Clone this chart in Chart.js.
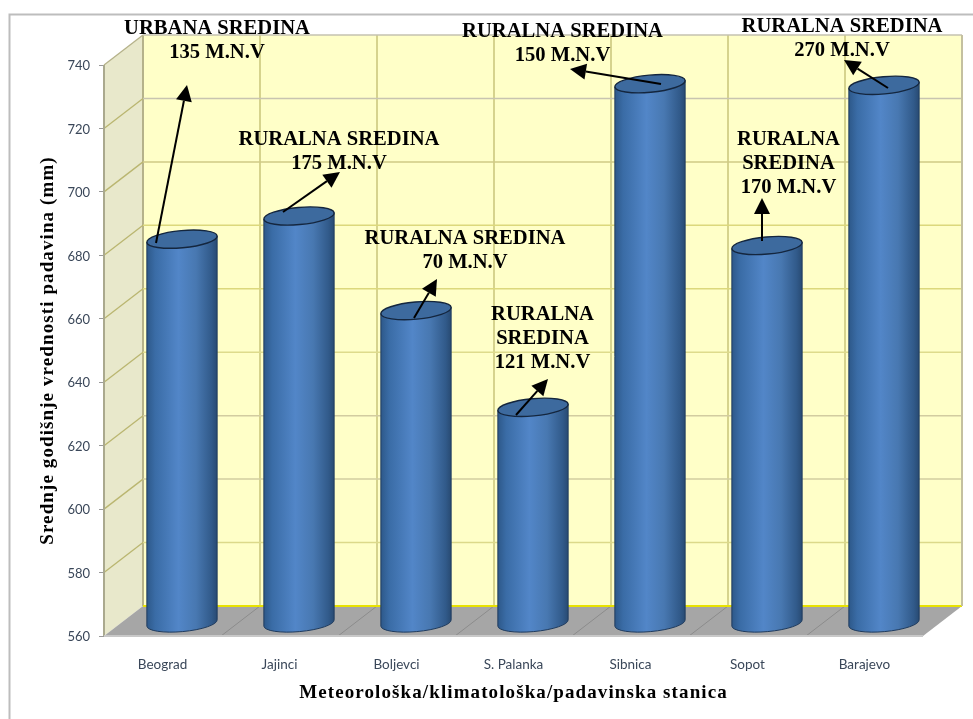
<!DOCTYPE html>
<html><head><meta charset="utf-8">
<style>html,body{margin:0;padding:0;background:#fff}canvas{display:block}</style>
<script src="https://cdn.jsdelivr.net/npm/chart.js@4"></script>
</head><body><canvas id="c" width="973" height="719"></canvas>
<script>
const categories=["Beograd","Jajinci","Boljevci","S. Palanka","Sibnica","Sopot","Barajevo"];
const precipitation=[681,688.3,658.5,628,730,679,729.5];
const tickValues=[560,580,600,620,640,660,680,700,720,740];
const yTitle="Srednje godišnje vrednosti padavina (mm)";
const xTitle="Meteorološka/klimatološka/padavinska stanica";
const notes=[
 {lines:["URBANA SREDINA","135 M.N.V"],x:217,y:29,from:[156,243],to:[187,85]},
 {lines:["RURALNA SREDINA","175 M.N.V"],x:339,y:140,from:[283,212],to:[340,172]},
 {lines:["RURALNA SREDINA","70 M.N.V"],x:465,y:239,from:[414,318],to:[437,279]},
 {lines:["RURALNA","SREDINA","121 M.N.V"],x:542.5,y:315,from:[516,415],to:[548,379]},
 {lines:["RURALNA SREDINA","150 M.N.V"],x:562.5,y:32,from:[661,84],to:[570,69]},
 {lines:["RURALNA","SREDINA","170 M.N.V"],x:788.5,y:140,from:[762,241],to:[762,198]},
 {lines:["RURALNA SREDINA","270 M.N.V"],x:842,y:27,from:[888,88],to:[844,60]}
];
const gridTone={560:'#e8e200',580:'#dcd98a',600:'#d2cea0',620:'#d2cca0',640:'#dedb8c',660:'#dcd87c',680:'#dcd87c',700:'#cfca86',720:'#c8c4b0',740:'#c4c2b0'};
const DX=39,DY=30,LIFT=13;
const WALL='#ffffc8',SIDE='#e8e8cb',FLOOR='#a6a6a6',VGRID='#c9c57a',SGRID='#bab670';
function line(ctx,x1,y1,x2,y2,col,w){ctx.strokeStyle=col;ctx.lineWidth=w||1.5;ctx.beginPath();ctx.moveTo(x1,y1);ctx.lineTo(x2,y2);ctx.stroke();}
function poly(ctx,pts,col){ctx.fillStyle=col;ctx.beginPath();pts.forEach((p,i)=>i?ctx.lineTo(p[0],p[1]):ctx.moveTo(p[0],p[1]));ctx.closePath();ctx.fill();}
function spacedTitle(s){
 if(s._spaced)return;s._spaced=true;
 const orig=s.drawTitle;
 s.drawTitle=function(){const c=this.ctx;c.save();c.letterSpacing='1.1px';orig.apply(this,arguments);c.restore();};
}
const scene={id:'scene',
 beforeDraw(chart){
  const ctx=chart.ctx;ctx.save();
  ctx.strokeStyle='#bdbdbd';ctx.lineWidth=2;ctx.beginPath();ctx.moveTo(9.5,719);ctx.lineTo(9.5,14.5);ctx.lineTo(973,14.5);ctx.stroke();
  ctx.restore();
 },
 beforeDatasetsDraw(chart){
  const ctx=chart.ctx,a=chart.chartArea,y=chart.scales.y;
  const L=a.left,R=a.right,T=a.top,B=a.bottom;
  ctx.save();
  poly(ctx,[[L+DX,T-DY],[R+DX,T-DY],[R+DX,B-DY],[L+DX,B-DY]],WALL);
  poly(ctx,[[L,T],[L+DX,T-DY],[L+DX,B-DY],[L,B]],SIDE);
  poly(ctx,[[L,B],[L+DX,B-DY],[R+DX,B-DY],[R,B]],FLOOR);
  const step=(R-L)/categories.length;
  for(let i=0;i<=categories.length;i++){
   const x=L+i*step;
   line(ctx,x+DX,T-DY,x+DX,B-DY,i===0?'#b5b28a':VGRID,i===0?2:1.5);
   if(i>0&&i<categories.length)line(ctx,x,B,x+DX,B-DY,'#8c8c8c',1);
  }
  tickValues.forEach(v=>{
   const p=y.getPixelForValue(v);
   if(v!==560)line(ctx,L,p,L+DX,p-DY,v===740?'#b5b28a':SGRID,1.3);
   line(ctx,L+DX,p-DY,R+DX,p-DY,gridTone[v],v===560?2:1.5);
  });
  line(ctx,L,T,L,B,'#aaa98e',2);
  line(ctx,R+DX,T-DY,R+DX,B-DY,'#c4c0a0',2);
  line(ctx,L,B,R,B,'#c8c8c8',2);
  ctx.restore();
 },
 beforeDatasetDraw(chart,args){
  const ctx=chart.ctx,y0=chart.scales.y.getPixelForValue(560)-LIFT;
  chart.getDatasetMeta(args.index).data.forEach(el=>{
   const p=el.getProps(['x','y','width'],true);
   const cx=p.x+DX/2,top=p.y-LIFT,rx=p.width/2,ry=8.6,tilt=-0.09;
   const g=ctx.createLinearGradient(cx-rx,0,cx+rx,0);
   g.addColorStop(0,'#2d5889');g.addColorStop(.12,'#3a6ca6');g.addColorStop(.45,'#5286c8');
   g.addColorStop(.7,'#4878b1');g.addColorStop(.92,'#315a8a');g.addColorStop(1,'#284a72');
   ctx.save();
   const dy=Math.sin(tilt)*rx,dx=Math.cos(tilt)*rx;
   ctx.beginPath();
   ctx.moveTo(cx-dx,top-dy);
   ctx.lineTo(cx-dx,y0-dy);
   ctx.ellipse(cx,y0,rx,ry,tilt,Math.PI,0,true);
   ctx.lineTo(cx+dx,top+dy);
   ctx.closePath();
   ctx.fillStyle=g;ctx.fill();
   ctx.strokeStyle='#1f3b5e';ctx.lineWidth=1;ctx.stroke();
   ctx.beginPath();ctx.ellipse(cx,top,rx,ry,tilt,0,Math.PI*2);
   ctx.fillStyle='#3d6a9e';ctx.fill();
   ctx.strokeStyle='#14263e';ctx.lineWidth=1.4;ctx.stroke();
   ctx.restore();
  });
  return false;
 },
 afterDatasetsDraw(chart){
  const ctx=chart.ctx;ctx.save();
  ctx.fillStyle='#000';ctx.textAlign='center';ctx.textBaseline='middle';
  ctx.font='bold 20.6px "Liberation Serif"';
  notes.forEach(n=>{
   n.lines.forEach((t,i)=>ctx.fillText(t,n.x,n.y+i*24));
   const [x1,y1]=n.from,[x2,y2]=n.to,ang=Math.atan2(y2-y1,x2-x1),h=16,w=8;
   const bx=x2-h*Math.cos(ang),by=y2-h*Math.sin(ang);
   line(ctx,x1,y1,bx,by,'#000',2);
   poly(ctx,[[x2,y2],[bx-w*Math.sin(ang),by+w*Math.cos(ang)],[bx+w*Math.sin(ang),by-w*Math.cos(ang)]],'#000');
  });
  ctx.restore();
 }
};
new Chart(document.getElementById('c'),{
 type:'bar',
 data:{labels:categories,datasets:[{label:'Padavine',data:precipitation,backgroundColor:'#4f81bd',borderColor:'#1c3554',categoryPercentage:1,barPercentage:0.603}]},
 plugins:[scene],
 options:{responsive:false,animation:false,devicePixelRatio:1,
  layout:{padding:{left:0,right:50,top:65,bottom:0}},
  plugins:{legend:{display:false},tooltip:{enabled:false},title:{display:false}},
  scales:{
   x:{afterFit(s){s.height=83;spacedTitle(s);},
    grid:{display:false},border:{display:false},
    ticks:{color:'#3a4759',padding:13,maxRotation:0,font:{family:'Lato',size:13.5}},
    title:{display:true,text:xTitle,color:'#000',font:{family:'"Liberation Serif"',weight:'bold',size:19},padding:{top:0,bottom:15}}},
   y:{min:560,max:740,afterFit(s){s.width=104;spacedTitle(s);},
    afterBuildTicks(s){s.ticks=tickValues.map(v=>({value:v}));},
    grid:{drawOnChartArea:false,drawTicks:true,tickLength:5,color:'#9a9a9a'},border:{display:false},
    ticks:{color:'#3a4759',padding:9,labelOffset:1,font:{family:'Lato',size:13}},
    title:{display:true,text:yTitle,color:'#000',font:{family:'"Liberation Serif"',weight:'bold',size:19},padding:{top:37,bottom:0}}}
  }}
});
</script></body></html>
